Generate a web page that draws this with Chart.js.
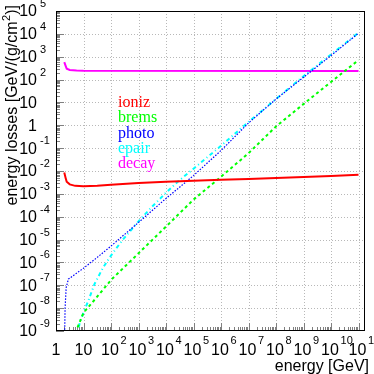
<!DOCTYPE html>
<html>
<head>
<meta charset="utf-8">
<script src="https://cdn.jsdelivr.net/npm/chart.js@4.4.0/dist/chart.umd.min.js"></script>
<style>
  html, body { margin: 0; padding: 0; background: #fff; }
  #wrap { width: 374px; height: 374px; }
</style>
</head>
<body>
<div id="wrap"><canvas id="lossChart" width="374" height="374"></canvas></div>
<script>
// Muon energy loss components vs energy
const ionizE    = [2.0, 2.24, 2.45, 3.16, 5, 10, 31.6, 100, 1e3, 1e4, 1e5, 1e6, 1e7, 1e8, 1e9, 1e10, 1e11];
const ionizLoss = [8.5e-3, 5.0e-3, 3.4e-3, 2.6e-3, 2.24e-3, 2.14e-3, 2.24e-3, 2.5e-3, 3.0e-3, 3.4e-3, 3.7e-3, 4.1e-3, 4.5e-3, 4.9e-3, 5.4e-3, 6.0e-3, 6.8e-3];

const bremsE    = [4.0, 5.4, 10, 20, 107, 1e3, 1e4, 1e5, 1e6, 1e7, 1e8, 1e9, 1e10, 1e11];
const bremsLoss = [2.5e-10, 1e-9, 6.3e-9, 1.66e-8, 1.86e-7, 2.5e-6, 3.7e-5, 5.6e-4, 5.6e-3, 6.0e-2, 0.89, 8.5, 79, 708];

const photoE    = [2.0, 2.14, 2.34, 2.82, 10, 31.6, 100, 1e3, 1e4, 5.6e4, 1e5, 1e6, 1e7, 1e8, 1e9, 1e10, 1e11];
const photoLoss = [1e-10, 1e-8, 7.9e-8, 1.86e-7, 5.6e-7, 1.66e-6, 5.2e-6, 5.6e-5, 6.3e-4, 3.5e-3, 6.3e-3, 7.9e-2, 1.26, 14, 126, 1120, 1.07e4];

const epairE    = [5.6, 7.4, 10, 15.8, 25, 50, 100, 250, 1e3, 3.16e3, 1e4, 2.75e4, 1e5, 1e6, 1e7, 1e8, 1e9, 1e10, 1e11];
const epairLoss = [5e-10, 2.5e-9, 6.3e-9, 2.5e-8, 1.12e-7, 5.6e-7, 2.0e-6, 8.9e-6, 6.3e-5, 2.8e-4, 1.12e-3, 3.5e-3, 1.26e-2, 0.126, 1.41, 14.1, 141, 1260, 1.12e4];

const decayE    = [2.0, 2.24, 2.45, 3.16, 5.6, 10, 1e11];
const decayLoss = [575, 400, 300, 263, 251, 245, 240];

const seriesNames  = ['ioniz', 'brems', 'photo', 'epair', 'decay'];
const seriesColors = ['#ff0000', '#00ff00', '#0000ff', '#00ffff', '#ff00ff'];

// tick labels: powers of ten
const xTickExps = [0, 1, 2, 3, 4, 5, 6, 7, 8, 9, 10, 11];
const yTickExps = [-9, -8, -7, -6, -5, -4, -3, -2, -1, 0, 1, 2, 3, 4, 5];

const SANS = '"Liberation Sans", Arial, Helvetica, sans-serif';
const SERIF = '"Liberation Serif", "Times New Roman", serif';

function pts(xs, ys) {
    return xs.map((e, i) => ({ x: e, y: ys[i] }));
}

function seg(ctx, x1, y1, x2, y2) {
    ctx.beginPath();
    ctx.moveTo(x1, y1);
    ctx.lineTo(x2, y2);
    ctx.stroke();
}

// ROOT-like frame: dotted decade grid, inner ticks, power-of-ten labels
const rootStyle = {
    id: 'rootStyle',
    beforeDatasetsDraw(chart) {
        const { ctx, chartArea: a, scales: { x, y } } = chart;
        ctx.save();
        ctx.lineWidth = 1;
        ctx.strokeStyle = '#b8b8b8';
        ctx.setLineDash([1, 2]);
        xTickExps.forEach(p => {
            const px = Math.round(x.getPixelForValue(Math.pow(10, p))) + 0.5;
            if (px <= a.left + 1 || px >= a.right - 1) return;
            seg(ctx, px, a.top, px, a.bottom);
        });
        yTickExps.forEach(p => {
            const py = Math.round(y.getPixelForValue(Math.pow(10, p))) + 0.5;
            if (py <= a.top + 1 || py >= a.bottom - 1) return;
            seg(ctx, a.left, py, a.right, py);
        });
        ctx.setLineDash([]);

        // tick marks inside the frame
        ctx.strokeStyle = '#808080';
        xTickExps.forEach(p => {
            for (let m = 1; m <= 9; m++) {
                const v = m * Math.pow(10, p);
                if (v > x.max) break;
                const px = Math.round(x.getPixelForValue(v)) + 0.5;
                seg(ctx, px, a.bottom, px, a.bottom - (m === 1 ? 8 : 4));
            }
        });
        yTickExps.forEach(p => {
            for (let m = 1; m <= 9; m++) {
                const v = m * Math.pow(10, p);
                if (v > y.max) break;
                const py = Math.round(y.getPixelForValue(v)) + 0.5;
                seg(ctx, a.left, py, a.left + (m === 1 ? 8 : 4), py);
            }
        });
        ctx.restore();
    },
    afterDraw(chart) {
        const { ctx, chartArea: a, scales: { x, y } } = chart;
        ctx.save();

        // frame
        ctx.strokeStyle = '#000';
        ctx.lineWidth = 1;
        ctx.strokeRect(a.left + 0.5, a.top + 0.5, a.right - a.left - 1, a.bottom - a.top - 1);

        ctx.fillStyle = '#000';

        // y tick labels
        yTickExps.forEach(p => {
            const py = y.getPixelForValue(Math.pow(10, p));
            ctx.textBaseline = 'middle';
            ctx.font = '16px ' + SANS;
            ctx.textAlign = 'right';
            if (p === 0) { ctx.fillText('1', 37, py + 1); return; }
            ctx.fillText('10', 37, py + 1);
            if (p === 1) return;
            ctx.font = '11px ' + SANS;
            ctx.textAlign = 'left';
            ctx.fillText(String(p), 40, py - 7);
        });

        // x tick labels
        xTickExps.forEach(p => {
            const px = x.getPixelForValue(Math.pow(10, p));
            ctx.textBaseline = 'middle';
            ctx.font = '16px ' + SANS;
            ctx.textAlign = 'center';
            if (p === 0) { ctx.fillText('1', px, 351); return; }
            if (p === 1) { ctx.fillText('10', px, 351); return; }
            ctx.fillText('10', px - 1, 351);
            ctx.font = '11px ' + SANS;
            ctx.textAlign = 'left';
            ctx.fillText(String(p), px + 9.5, 341);
        });

        // axis titles
        ctx.font = '16px ' + SANS;
        ctx.textAlign = 'right';
        ctx.textBaseline = 'alphabetic';
        ctx.fillText('energy [GeV]', 369, 371);

        ctx.save();
        ctx.translate(13, 5);
        ctx.rotate(-Math.PI / 2);
        ctx.textBaseline = 'middle';
        ctx.textAlign = 'right';
        let cx = 0;
        ctx.font = '16px ' + SANS;
        ctx.fillText(')]', cx, 0);
        cx -= ctx.measureText(')]').width;
        ctx.font = '11px ' + SANS;
        ctx.fillText('2', cx, -6);
        cx -= ctx.measureText('2').width + 0.5;
        ctx.font = '16px ' + SANS;
        ctx.fillText('energy losses [GeV/(g/cm', cx, 0);
        ctx.restore();

        // legend as coloured labels
        ctx.font = '16px ' + SERIF;
        ctx.textAlign = 'left';
        ctx.textBaseline = 'alphabetic';
        seriesNames.forEach((name, i) => {
            ctx.fillStyle = seriesColors[i];
            ctx.fillText(name, 118, 107 + i * 15.3);
        });
        ctx.restore();
    }
};

const ctx = document.getElementById('lossChart').getContext('2d');
new Chart(ctx, {
    type: 'line',
    data: {
        datasets: [
            { label: 'ioniz', data: pts(ionizE, ionizLoss), borderColor: seriesColors[0], borderWidth: 2 },
            { label: 'brems', data: pts(bremsE, bremsLoss), borderColor: seriesColors[1], borderWidth: 2, borderDash: [3, 3] },
            { label: 'photo', data: pts(photoE, photoLoss), borderColor: seriesColors[2], borderWidth: 1.2, borderDash: [1.5, 1.5] },
            { label: 'epair', data: pts(epairE, epairLoss), borderColor: seriesColors[3], borderWidth: 2, borderDash: [4, 3, 1, 3] },
            { label: 'decay', data: pts(decayE, decayLoss), borderColor: seriesColors[4], borderWidth: 2 }
        ]
    },
    options: {
        responsive: false,
        animation: false,
        devicePixelRatio: 1,
        layout: { padding: { left: 56, right: 9, top: 11, bottom: 43 } },
        elements: {
            point: { radius: 0 },
            line: { tension: 0, fill: false }
        },
        datasets: { line: { clip: 0 } },
        plugins: {
            legend: { display: false },
            tooltip: { enabled: false }
        },
        scales: {
            x: {
                type: 'logarithmic',
                min: 1,
                max: 1.72e11,
                ticks: { display: false },
                grid: { display: false, drawTicks: false },
                border: { display: false }
            },
            y: {
                type: 'logarithmic',
                min: 1e-9,
                max: 1e5,
                ticks: { display: false },
                grid: { display: false, drawTicks: false },
                border: { display: false }
            }
        }
    },
    plugins: [rootStyle]
});
</script>
</body>
</html>
